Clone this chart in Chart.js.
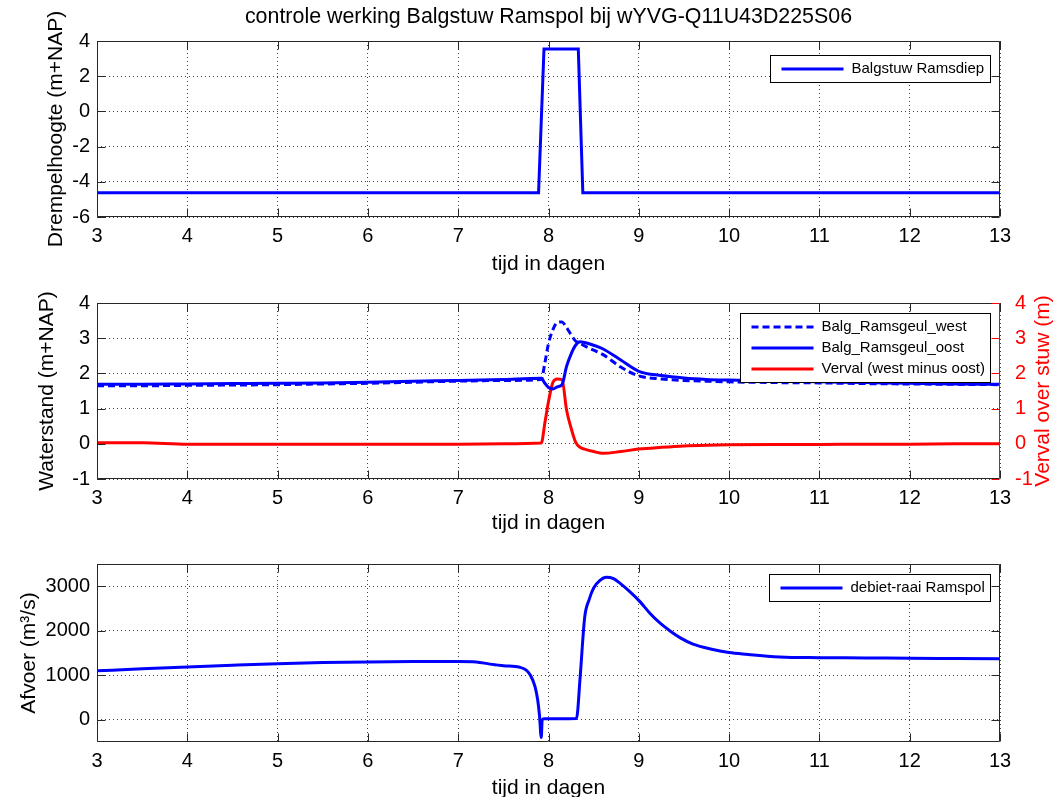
<!DOCTYPE html>
<html>
<head>
<meta charset="utf-8">
<script src="https://cdn.jsdelivr.net/npm/chart.js@4.4.1/dist/chart.umd.min.js"></script>
<style>
  html, body { margin: 0; padding: 0; background: #fff; overflow: hidden; }
  #wrap { position: relative; width: 1054px; height: 797px; overflow: hidden; }
  .plot { position: absolute; left: 0; }
</style>
</head>
<body>
<div id="wrap">
  <canvas id="drempel" class="plot" style="top:0px" width="1054" height="277"></canvas>
  <canvas id="water" class="plot" style="top:275px" width="1054" height="261"></canvas>
  <canvas id="debiet" class="plot" style="top:534px" width="1054" height="267"></canvas>
</div>
<script>
// tick labels
const dayTicks = [3, 4, 5, 6, 7, 8, 9, 10, 11, 12, 13];
const drempelTicks = [-6, -4, -2, 0, 2, 4];
const waterTicks = [-1, 0, 1, 2, 3, 4];
const afvoerTicks = [0, 1000, 2000, 3000];

// Balgstuw Ramsdiep (m+NAP)
const drempelTime = [3, 7.89, 7.95, 8.33, 8.38, 13];
const drempelRamsdiep = [-4.62, -4.62, 3.55, 3.55, -4.62, -4.62];

// waterstanden (m+NAP) and verval (m)
const waterTime = [3, 3.5, 4, 4.5, 5, 5.5, 6, 6.5, 7, 7.5, 7.92, 7.96, 8.0, 8.05, 8.1, 8.15, 8.2, 8.25, 8.3, 8.35,
  8.4, 8.5, 8.6, 8.8, 9.0, 9.25, 9.5, 9.75, 10, 10.5, 11, 11.5, 12, 12.5, 13];
const waterWest = [1.65, 1.65, 1.66, 1.67, 1.68, 1.70, 1.72, 1.75, 1.78, 1.80, 1.83, 2.3, 2.85, 3.25, 3.45, 3.46, 3.3, 3.1, 2.92, 2.85,
  2.78, 2.66, 2.54, 2.18, 1.93, 1.84, 1.8, 1.78, 1.76, 1.74, 1.73, 1.71, 1.70, 1.69, 1.68];
const waterOost = [1.69, 1.69, 1.70, 1.71, 1.72, 1.73, 1.75, 1.78, 1.80, 1.83, 1.86, 1.72, 1.6, 1.56, 1.62, 1.68, 2.2, 2.55, 2.8, 2.9,
  2.88, 2.8, 2.7, 2.38, 2.06, 1.94, 1.87, 1.83, 1.81, 1.78, 1.76, 1.74, 1.72, 1.70, 1.69];
const vervalWestOost = [0.03, 0.03, -0.01, -0.01, -0.01, -0.01, -0.01, -0.01, -0.01, 0.0, 0.02, 0.6, 1.2, 1.75, 1.84, 1.82, 0.96, 0.45, 0.05, -0.1,
  -0.15, -0.22, -0.27, -0.22, -0.15, -0.1, -0.06, -0.04, -0.03, -0.02, -0.02, -0.01, -0.01, 0.0, 0.0];

// debiet-raai Ramspol (m3/s)
const debietTime = [3, 3.5, 4, 4.5, 5, 5.5, 6, 6.5, 7, 7.2, 7.35, 7.5, 7.68, 7.75, 7.8, 7.85, 7.88, 7.9, 7.92, 7.93,
  7.95, 8.1, 8.31, 8.35, 8.4, 8.45, 8.5, 8.57, 8.64, 8.72, 8.79, 8.9, 9.01, 9.12, 9.23, 9.35, 9.46, 9.6, 9.82, 10.0,
  10.19, 10.56, 11, 11.5, 12, 12.5, 13];
const debietRamspol = [1100, 1145, 1186, 1225, 1260, 1285, 1300, 1308, 1310, 1300, 1250, 1215, 1180, 1120, 1000, 750, 450, 100, -400, 0,
  20, 25, 30, 946, 2290, 2700, 2960, 3130, 3200, 3170, 3070, 2880, 2660, 2400, 2180, 1990, 1840, 1700, 1580, 1510,
  1470, 1410, 1395, 1390, 1380, 1375, 1370];

const FONT = '"Liberation Sans", Arial, sans-serif';
const BLUE = "#0000ff";
const RED = "#ff0000";

Chart.defaults.font.family = FONT;
Chart.defaults.font.size = 20;
Chart.defaults.color = "#000";

const toPoints = (xs, ys) => xs.map((x, i) => ({ x, y: ys[i] }));

// MATLAB style box with inward tick marks
const axesBox = {
  id: "axesBox",
  afterDraw(chart) {
    const { ctx, chartArea: a, scales } = chart;
    const len = 8;
    const L = Math.round(a.left) + 0.5, R = Math.round(a.right) - 0.5;
    const T = Math.round(a.top) + 0.5, B = Math.round(a.bottom) - 0.5;
    ctx.save();
    ctx.lineWidth = 1;
    ctx.strokeStyle = "#262626";
    ctx.beginPath();
    scales.x.ticks.forEach((t) => {
      const px = Math.round(scales.x.getPixelForValue(t.value)) + 0.5;
      ctx.moveTo(px, B); ctx.lineTo(px, B - len);
      ctx.moveTo(px, T); ctx.lineTo(px, T + len);
    });
    scales.y.ticks.forEach((t) => {
      const py = Math.round(scales.y.getPixelForValue(t.value)) + 0.5;
      ctx.moveTo(L, py); ctx.lineTo(L + len, py);
      if (!scales.y2) { ctx.moveTo(R, py); ctx.lineTo(R - len, py); }
    });
    ctx.moveTo(R, T); ctx.lineTo(L, T); ctx.lineTo(L, B); ctx.lineTo(R, B);
    if (!scales.y2) ctx.lineTo(R, T);
    ctx.stroke();
    if (scales.y2) {
      ctx.strokeStyle = RED;
      ctx.beginPath();
      ctx.moveTo(R, T); ctx.lineTo(R, B);
      scales.y2.ticks.forEach((t) => {
        const py = Math.round(scales.y2.getPixelForValue(t.value)) + 0.5;
        ctx.moveTo(R, py); ctx.lineTo(R - len, py);
      });
      ctx.stroke();
    }
    ctx.restore();
  },
};

// legend drawn inside the plot area, top right
const insideLegend = {
  id: "insideLegend",
  afterDraw(chart, args, opts) {
    const { ctx, chartArea } = chart;
    const items = chart.data.datasets;
    const rowH = 21;
    ctx.save();
    ctx.font = "15px " + FONT;
    const textW = Math.max(...items.map((d) => ctx.measureText(d.label).width));
    const w = Math.round(11 + 62 + 8 + textW + 6);
    const h = items.length * rowH + 6;
    const left = Math.round(chartArea.right - 10 - w) + 0.5;
    const top = Math.round(chartArea.top + opts.top) + 0.5;
    ctx.fillStyle = "#fff";
    ctx.fillRect(left, top, w, h);
    ctx.strokeStyle = "#000";
    ctx.lineWidth = 1;
    ctx.strokeRect(left, top, w, h);
    items.forEach((d, i) => {
      const y = top + 3 + rowH * i + rowH / 2;
      ctx.strokeStyle = d.borderColor;
      ctx.lineWidth = d.borderWidth;
      ctx.setLineDash(d.borderDash || []);
      ctx.beginPath();
      ctx.moveTo(left + 11, y);
      ctx.lineTo(left + 73, y);
      ctx.stroke();
      ctx.setLineDash([]);
      ctx.fillStyle = "#000";
      ctx.textBaseline = "middle";
      ctx.textAlign = "left";
      ctx.fillText(d.label, left + 81, y);
    });
    ctx.restore();
  },
};

// figure title centred over the plot area
const figTitle = {
  id: "figTitle",
  afterDraw(chart, args, opts) {
    if (!opts.text) return;
    const { ctx, chartArea } = chart;
    ctx.save();
    ctx.font = "21.4px " + FONT;
    ctx.fillStyle = "#000";
    ctx.textAlign = "center";
    ctx.textBaseline = "middle";
    ctx.fillText(opts.text, (chartArea.left + chartArea.right) / 2, opts.y);
    ctx.restore();
  },
};

// right axis label reads bottom-to-top like MATLAB
const rightTitle = {
  id: "rightTitle",
  afterDraw(chart, args, opts) {
    if (!opts.text) return;
    const { ctx, chartArea } = chart;
    ctx.save();
    ctx.translate(opts.x, (chartArea.top + chartArea.bottom) / 2);
    ctx.rotate(-Math.PI / 2);
    ctx.font = "21px " + FONT;
    ctx.fillStyle = opts.color;
    ctx.textAlign = "center";
    ctx.textBaseline = "middle";
    ctx.fillText(opts.text, 0, 0);
    ctx.restore();
  },
};

const dottedGrid = {
  color: "rgba(0,0,0,0.75)",
  lineWidth: 1,
  drawTicks: false,
};

function xAxis(height) {
  return {
    type: "linear",
    min: 3,
    max: 13,
    afterBuildTicks: (scale) => { scale.ticks = dayTicks.map((v) => ({ value: v })); },
    afterFit: (scale) => { scale.height = height; },
    ticks: { padding: 7, maxRotation: 0, callback: (v) => String(v) },
    grid: dottedGrid,
    border: { display: false, dash: [1, 3] },
    title: { display: true, text: "tijd in dagen", font: { size: 21 }, padding: { top: 0, bottom: 0 } },
  };
}

function yAxis(min, max, tickList, label, titlePad) {
  return {
    type: "linear",
    position: "left",
    min,
    max,
    afterBuildTicks: (scale) => { scale.ticks = tickList.map((v) => ({ value: v })); },
    afterFit: (scale) => { scale.width = 97; },
    ticks: { padding: 7, callback: (v) => String(v) },
    grid: dottedGrid,
    border: { display: false, dash: [1, 3] },
    title: { display: true, text: label, font: { size: 21 }, padding: { top: titlePad, bottom: 0 } },
  };
}

function lineSet(label, xs, ys, color, extra) {
  return {
    label,
    data: toPoints(xs, ys),
    borderColor: color,
    backgroundColor: color,
    borderWidth: 3,
    pointRadius: 0,
    fill: false,
    ...extra,
  };
}

// top: drempelhoogte
new Chart(document.getElementById("drempel"), {
  type: "line",
  data: {
    datasets: [lineSet("Balgstuw Ramsdiep", drempelTime, drempelRamsdiep, BLUE, { tension: 0 })],
  },
  options: {
    responsive: false,
    animation: false,
    layout: { padding: { left: 0, right: 54, top: 41, bottom: 0 } },
    scales: {
      x: xAxis(60),
      y: yAxis(-6, 4, drempelTicks, "Drempelhoogte (m+NAP)", 44),
    },
    plugins: {
      legend: { display: false },
      tooltip: { enabled: false },
      figTitle: { text: "controle werking Balgstuw Ramspol bij wYVG-Q11U43D225S06", y: 17 },
      insideLegend: { top: 14 },
    },
  },
  plugins: [axesBox, insideLegend, figTitle],
});

// middle: waterstanden en verval
new Chart(document.getElementById("water"), {
  type: "line",
  data: {
    datasets: [
      lineSet("Balg_Ramsgeul_west", waterTime, waterWest, BLUE, { borderDash: [7, 4], cubicInterpolationMode: "monotone" }),
      lineSet("Balg_Ramsgeul_oost", waterTime, waterOost, BLUE, { cubicInterpolationMode: "monotone" }),
      lineSet("Verval (west minus oost)", waterTime, vervalWestOost, RED, { yAxisID: "y2", cubicInterpolationMode: "monotone" }),
    ],
  },
  options: {
    responsive: false,
    animation: false,
    layout: { padding: { left: 0, right: 0, top: 28, bottom: 0 } },
    scales: {
      x: xAxis(57),
      y: yAxis(-1, 4, waterTicks, "Waterstand (m+NAP)", 35),
      y2: {
        type: "linear",
        position: "right",
        min: -1,
        max: 4,
        afterBuildTicks: (scale) => { scale.ticks = waterTicks.map((v) => ({ value: v })); },
        afterFit: (scale) => { scale.width = 54; },
        ticks: { padding: 7, color: RED, callback: (v) => String(v) },
        grid: { display: false },
        border: { display: false },
      },
    },
    plugins: {
      legend: { display: false },
      tooltip: { enabled: false },
      insideLegend: { top: 10 },
      rightTitle: { text: "Verval over stuw (m)", x: 1043, color: RED },
    },
  },
  plugins: [axesBox, insideLegend, rightTitle],
});

// bottom: afvoer
new Chart(document.getElementById("debiet"), {
  type: "line",
  data: {
    datasets: [lineSet("debiet-raai Ramspol", debietTime, debietRamspol, BLUE, { cubicInterpolationMode: "monotone" })],
  },
  options: {
    responsive: false,
    animation: false,
    layout: { padding: { left: 0, right: 54, top: 30, bottom: 0 } },
    scales: {
      x: xAxis(59),
      y: yAxis(-500, 3500, afvoerTicks, "Afvoer (m\u00b3/s)", 17),
    },
    plugins: {
      legend: { display: false },
      tooltip: { enabled: false },
      insideLegend: { top: 10 },
    },
  },
  plugins: [axesBox, insideLegend],
});
</script>
</body>
</html>
